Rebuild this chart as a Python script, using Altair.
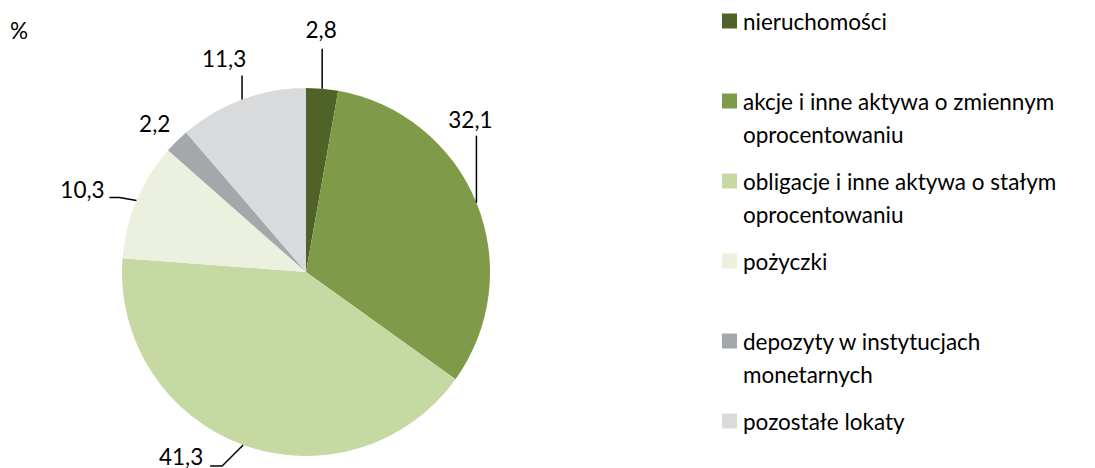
import math
import altair as alt
import pandas as pd

# ---- data ----
categories = [
    "nieruchomości",
    "akcje i inne aktywa o zmiennym oprocentowaniu",
    "obligacje i inne aktywa o stałym oprocentowaniu",
    "pożyczki",
    "depozyty w instytucjach monetarnych",
    "pozostałe lokaty",
]
legend_text = [
    "nieruchomości",
    "akcje i inne aktywa o zmiennym|oprocentowaniu",
    "obligacje i inne aktywa o stałym|oprocentowaniu",
    "pożyczki",
    "depozyty w instytucjach|monetarnych",
    "pozostałe lokaty",
]
values = [2.8, 32.1, 41.3, 10.3, 2.2, 11.3]
value_labels = ["2,8", "32,1", "41,3", "10,3", "2,2", "11,3"]
colors = ["#4F6228", "#7F9A48", "#C6D9A2", "#EBF1DE", "#A5A8AB", "#D9DADC"]

# ---- layout (pixels, view coordinates) ----
CX, CY, R = 298, 264, 184
FONT = "Lato"
FS = 22.5
# leader-line bends relative to slice edge point, and label centre relative to edge point
leader_pts = [
    [(0, 0), (0, -40)],
    [(0, 0), (0, -67)],
    [(0, 0), (-21, 21), (-33, 21)],
    [(0, 0), (-17, -3), (-27, -3)],
    [],
    [(0, 0), (0, -24)],
]
label_off = [(-1, -58), (-6, -82), (-62, 13), (-54, -10), (-22, -16), (-18, -39)]

total = sum(values)
pie_df = pd.DataFrame({"cat": categories, "value": values, "idx": list(range(len(values)))})

edge = []
acc = 0.0
for v in values:
    a = (acc + v / 2) / total * 2 * math.pi
    edge.append((CX + R * math.sin(a), CY - R * math.cos(a)))
    acc += v

line_rows = []
for i, pts in enumerate(leader_pts):
    for j, (dx, dy) in enumerate(pts):
        line_rows.append({"cat": categories[i], "pt": j, "x": edge[i][0] + dx, "y": edge[i][1] + dy})
line_df = pd.DataFrame(line_rows)

lab_df = pd.DataFrame({
    "lab": value_labels,
    "x": [edge[i][0] + label_off[i][0] for i in range(len(values))],
    "y": [edge[i][1] + label_off[i][1] for i in range(len(values))],
})

LEG_X, LEG_Y0, LEG_STEP = 721.5, 13, 80
leg_df = pd.DataFrame({
    "cat": categories,
    "txt": legend_text,
    "y": [LEG_Y0 + LEG_STEP * i for i in range(len(categories))],
})

color_scale = alt.Scale(domain=categories, range=colors)

pie = alt.Chart(pie_df).mark_arc(outerRadius=R).encode(
    theta=alt.Theta("value:Q", stack=True),
    order=alt.Order("idx:Q"),
    color=alt.Color("cat:N", scale=color_scale, legend=None),
    x=alt.value(CX),
    y=alt.value(CY),
)

lines = alt.Chart(line_df).mark_line(color="black", strokeWidth=1.5).encode(
    x=alt.X("x:Q", scale=None),
    y=alt.Y("y:Q", scale=None),
    detail="cat:N",
    order="pt:Q",
)

labels = alt.Chart(lab_df).mark_text(font=FONT, fontSize=FS, color="black", align="center", baseline="middle").encode(
    x=alt.X("x:Q", scale=None),
    y=alt.Y("y:Q", scale=None),
    text="lab:N",
)

pct = alt.Chart(pd.DataFrame({"t": ["%"]})).mark_text(
    font=FONT, fontSize=FS, color="black", align="center", baseline="middle"
).encode(x=alt.value(11), y=alt.value(24), text="t:N")

leg_sq = alt.Chart(leg_df).mark_square(size=225, opacity=1).encode(
    x=alt.value(LEG_X),
    y=alt.Y("y:Q", scale=None),
    color=alt.Color("cat:N", scale=color_scale, legend=None),
)

leg_txt = alt.Chart(leg_df).transform_calculate(
    lines="split(datum.txt, '|')"
).mark_text(font=FONT, fontSize=FS, color="black", align="left", baseline="middle", lineHeight=33, dy=2).encode(
    x=alt.value(735),
    y=alt.Y("y:Q", scale=None),
    text="lines:N",
)

chart = alt.layer(pie, lines, labels, pct, leg_sq, leg_txt).properties(
    width=1079, height=452, padding=0
).configure_view(stroke=None)

chart.save("out.html", embed_options={"renderer": "svg", "actions": False})
